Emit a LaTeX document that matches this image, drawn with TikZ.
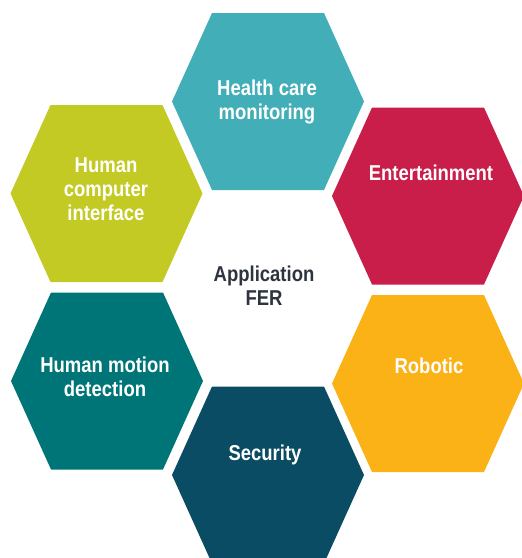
\documentclass[tikz,border=0pt]{standalone}
\usepackage{fontspec}
\newfontfamily\hexfont{Liberation Sans}[FakeStretch=0.86]
\definecolor{cTeal}{HTML}{42AEB8}
\definecolor{cLime}{HTML}{C3CA23}
\definecolor{cCrimson}{HTML}{C91D4A}
\definecolor{cPetrol}{HTML}{007577}
\definecolor{cNavy}{HTML}{094C64}
\definecolor{cAmber}{HTML}{FBB216}
\definecolor{cInk}{HTML}{2E343D}
\tikzset{
  hexlabel/.style={text=white, align=center, font=\hexfont\bfseries\fontsize{21.5}{24}\selectfont, inner sep=0pt},
  hublabel/.style={text=cInk, align=center, font=\hexfont\bfseries\fontsize{21.5}{24}\selectfont, inner sep=0pt}
}
% flat-topped hexagon centred at (#1,#2), filled with #3
\newcommand\hexcell[3]{%
  \fill[#3, shift={(#1,#2)}] (-96,0) -- (-56,-88.5) -- (56,-88.5) -- (96,0) -- (56,88.5) -- (-56,88.5) -- cycle;}
\begin{document}
\begin{tikzpicture}[x=1pt, y=-1pt]
\useasboundingbox (0,0) rectangle (522,558);
\clip (0,0) rectangle (522,558);
\hexcell{268}{101.5}{cTeal}
\hexcell{106.5}{193.5}{cLime}
\hexcell{428}{196}{cCrimson}
\hexcell{107}{381}{cPetrol}
\hexcell{428}{383.5}{cAmber}
\hexcell{268}{475}{cNavy}
\node[hexlabel] (health) at (267,102) {Health care\\monitoring};
\node[hexlabel] (hci) at (106,189) {Human\\computer\\interface};
\node[hexlabel] (ent) at (431,173) {Entertainment};
\node[hexlabel] (motion) at (105,377) {Human motion\\detection};
\node[hexlabel] (robot) at (429,366) {Robotic};
\node[hexlabel] (sec) at (265,455) {Security};
\node[hublabel] (hub) at (264,286) {Application\\FER};
\end{tikzpicture}
\end{document}
